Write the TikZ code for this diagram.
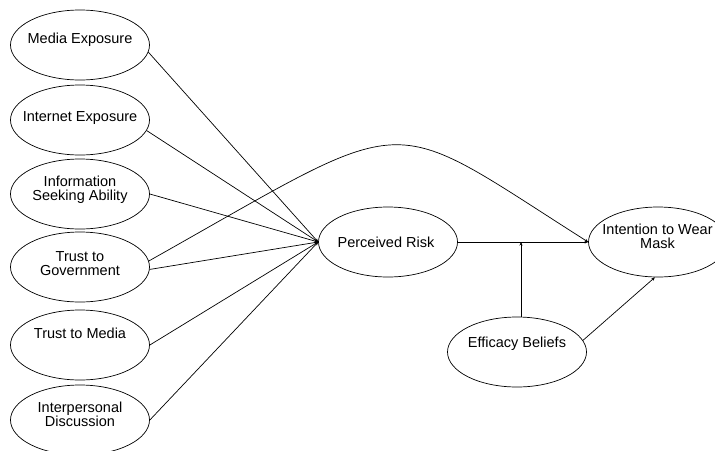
\documentclass[tikz,border=0pt]{standalone}
\usepackage{fontspec}
\setmainfont{Liberation Sans}
\usetikzlibrary{shapes.geometric,arrows.meta}
\begin{document}
\begin{tikzpicture}[x=1pt,y=-1pt,
  oval/.style={draw,ellipse,minimum width=139pt,minimum height=70pt,inner sep=0pt,line width=0.7pt},
  lbl/.style={font=\fontsize{14.5}{14}\selectfont,align=center,inner sep=0pt},
  link/.style={line width=0.7pt,-{Stealth[length=3.5pt,width=3pt]}},
  plain/.style={line width=0.7pt}]
\useasboundingbox (0,0) rectangle (715,450);
% ovals
\node[oval] (e1) at (80,45) {};
\node[oval] (e2) at (80,120) {};
\node[oval] (e3) at (80,194) {};
\node[oval] (e4) at (80,267) {};
\node[oval] (e5) at (80,345) {};
\node[oval] (e6) at (80,420) {};
\node[oval] (pr) at (388,242) {};
\node[oval] (im) at (658,242) {};
\node[oval] (eb) at (517,352) {};
% labels
\node[lbl,anchor=base] (l1) at (80,43) {Media Exposure};
\node[lbl,anchor=base] (l2) at (80,121.5) {Internet Exposure};
\node[lbl] (l3) at (80,189.5) {Information\\Seeking Ability};
\node[lbl] (l4) at (80,264) {Trust to\\Government};
\node[lbl,anchor=base] (l5) at (80,338.5) {Trust to Media};
\node[lbl] (l6) at (80,414) {Interpersonal\\Discussion};
\node[lbl,anchor=base] (lpr) at (386,247.7) {Perceived Risk};
\node[lbl] (lim) at (657.5,236.4) {Intention to Wear\\Mask};
\node[lbl,anchor=base] (leb) at (517,347.7) {Efficacy Beliefs};
% connectors
\coordinate (mid) at (521,242);
\draw[link] (e1.-6) -- (pr.west);
\draw[link] (e2.-9) -- (pr.west);
\draw[link] (e3.east) -- (pr.west);
\draw[link] (e4.-2) -- (pr.west);
\draw[link] (e5.east) -- (pr.west);
\draw[link] (e6.east) -- (pr.west);
\draw[link] (e4.5) .. controls (419,109) and (380,110) .. (im.west);
\draw[link] (pr.east) -- (im.west);
\draw[link] (mid |- eb.north) -- (mid);
\draw[link] (eb.10) -- (im.265);
\end{tikzpicture}
\end{document}
